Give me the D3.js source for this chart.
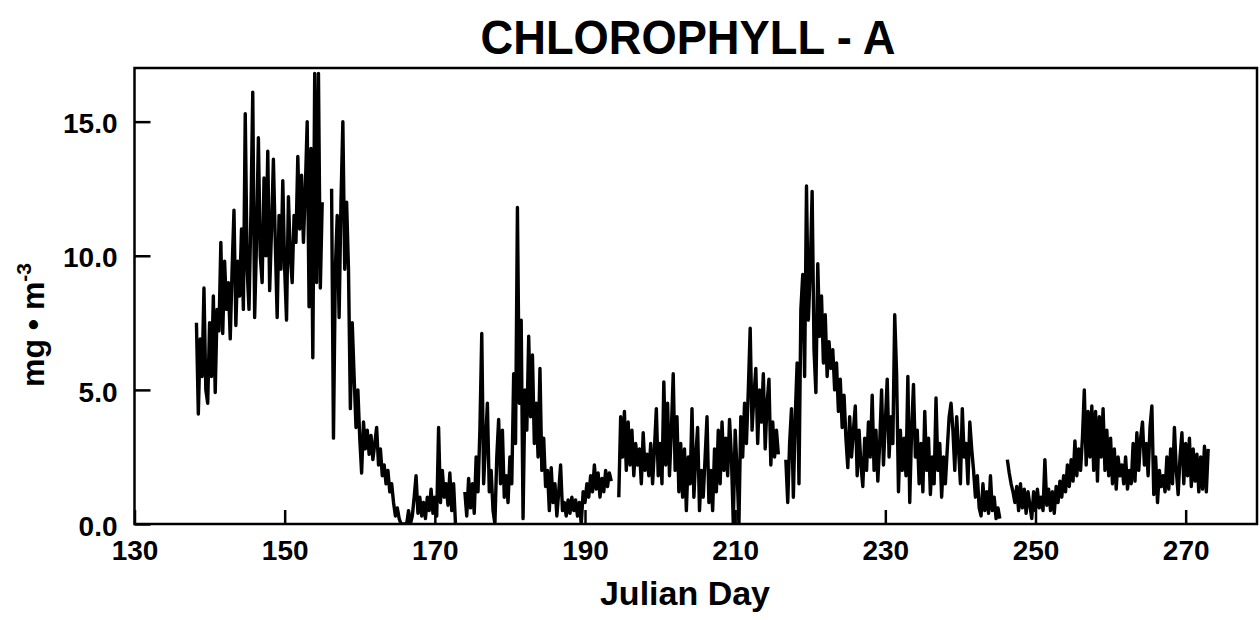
<!DOCTYPE html>
<html>
<head>
<meta charset="utf-8">
<script src="https://cdn.jsdelivr.net/npm/d3@7"></script>
<style>
  body { margin: 0; background: #fff; }
  text { font-family: "Liberation Sans", Arial, Helvetica, sans-serif; fill: #000; }
</style>
</head>
<body>
<div id="chart"></div>
<script>
// Data: chlorophyll-a, one reading every 6 hours
var firstDay = 138;
var stepDay = 0.25;
var chl = [
  null, 7.5, 4.1, 6.9,      // 138
  5.5, 8.8, 5.0, 4.5,       // 139
  7.5, 5.5, 8.5, 4.9,       // 140
  8.0, 7.2, 10.5, 7.1,      // 141
  9.8, 8.0, 9.0, 6.9,       // 142
  9.5, 11.7, 7.4, 9.8,      // 143
  8.5, 11.0, 8.0, 15.3,     // 144
  9.5, 8.0, 11.5, 16.1,     // 145
  7.7, 10.5, 14.4, 10.0,    // 146
  9.0, 12.9, 10.0, 13.9,    // 147
  8.7, 11.0, 13.6, 10.5,    // 148
  7.7, 11.5, 9.5, 12.8,     // 149
  9.5, 7.6, 12.2, 10.0,     // 150
  9.0, 11.5, 10.5, 13.7,    // 151
  11.0, 13.0, 10.5, 12.5,   // 152
  15.0, 8.1, 14.0, 6.2,     // 153
  16.8, 9.0, 16.8, 8.8,     // 154
  12.0, null, null, null,   // 155
  null, 12.5, 3.2, 9.5,     // 156
  11.5, 7.7, 12.0, 15.0,    // 157
  9.5, 12.0, 9.5, 4.3,      // 158
  7.5, 5.5, 3.6, 5.0,       // 159
  3.2, 1.9, 3.8, 2.8,       // 160
  3.5, 2.6, 3.3, 2.4,       // 161
  3.0, 3.6, 2.2, 2.8,       // 162
  1.8, 2.2, 1.5, 2.0,       // 163
  1.2, 1.5, 0.8, 0.3,       // 164
  0.6, 0.2, 0.0, 0.0,       // 165
  0.0, 0.0, 0.5, 0.0,       // 166
  0.3, 1.0, 1.8, 0.4,       // 167
  1.0, 0.3, 0.8, 0.2,       // 168
  1.0, 0.5, 1.3, 0.4,       // 169
  1.0, 0.3, 3.6, 0.8,       // 170
  2.0, 1.0, 1.5, 0.7,       // 171
  1.9, 0.5, 1.5, 0.0,       // 172
  null, null, null, null,   // 173
  1.2, 0.3, 1.7, 0.6,       // 174
  1.5, 0.4, 2.5, 1.2,       // 175
  3.5, 7.1, 1.5, 3.0,       // 176
  4.5, 1.2, 2.0, 0.5,       // 177
  0.0, 2.5, 3.9, 1.5,       // 178
  3.5, 1.0, 1.8, 0.8,       // 179
  2.5, 1.5, 5.6, 3.0,       // 180
  11.8, 4.5, 7.6, 0.2,      // 181
  5.0, 3.5, 7.0, 4.0,       // 182
  6.3, 3.0, 4.5, 2.5,       // 183
  5.8, 2.0, 3.2, 1.4,       // 184
  2.0, 0.5, 2.1, 0.8,       // 185
  1.5, 0.3, 1.2, 2.2,       // 186
  0.5, 0.8, 0.3, 0.9,       // 187
  0.4, 1.0, 0.5, 0.9,       // 188
  0.3, 0.8, 0.0, 1.2,       // 189
  0.8, 1.5, 1.0, 1.8,       // 190
  1.2, 2.2, 1.3, 1.9,       // 191
  1.0, 1.7, 1.2, 2.0,       // 192
  1.4, 1.9, 1.6, null,      // 193
  null, null, 1.0, 4.0,     // 194
  2.5, 4.2, 2.0, 3.8,       // 195
  2.2, 3.5, 1.8, 3.0,       // 196
  2.2, 2.8, 1.5, 3.4,       // 197
  2.0, 2.6, 1.8, 3.0,       // 198
  1.5, 2.8, 4.3, 1.8,       // 199
  3.0, 1.5, 5.3, 2.2,       // 200
  4.5, 1.8, 3.5, 5.6,       // 201
  2.0, 4.0, 1.2, 3.0,       // 202
  1.0, 2.8, 0.5, 2.5,       // 203
  1.5, 4.3, 1.0, 2.5,       // 204
  3.6, 0.5, 2.0, 1.0,       // 205
  2.5, 4.0, 0.8, 2.0,       // 206
  0.5, 2.8, 1.2, 3.5,       // 207
  1.5, 3.8, 2.0, 3.2,       // 208
  1.8, 3.9, 2.5, 0.0,       // 209
  3.5, 2.0, 0.0, 4.0,       // 210
  2.5, 4.5, 3.0, 5.0,       // 211
  7.3, 3.5, 4.8, 5.8,       // 212
  3.0, 5.0, 3.8, 5.6,       // 213
  2.8, 4.5, 5.4, 2.2,       // 214
  3.8, 2.5, 3.5, 2.6,       // 215
  null, null, null, 2.4,    // 216
  0.8, 3.0, 4.3, 1.0,       // 217
  4.0, 6.0, 1.5, 8.0,       // 218
  9.3, 5.5, 12.6, 7.6,      // 219
  9.5, 12.4, 6.5, 4.9,      // 220
  9.7, 7.0, 8.5, 6.0,       // 221
  7.8, 5.5, 6.8, 5.8,       // 222
  6.5, 5.0, 6.0, 4.2,       // 223
  5.4, 3.6, 4.8, 3.2,       // 224
  2.1, 4.0, 2.5, 3.5,       // 225
  4.4, 1.8, 3.5, 2.2,       // 226
  1.4, 3.2, 2.0, 3.8,       // 227
  2.5, 4.8, 2.0, 3.5,       // 228
  1.6, 3.0, 5.0, 2.2,       // 229
  3.8, 5.4, 2.5, 4.0,       // 230
  3.0, 7.8, 5.6, 1.2,       // 231
  3.5, 2.0, 3.2, 1.8,       // 232
  5.5, 0.8, 3.5, 5.2,       // 233
  2.5, 3.5, 1.5, 3.0,       // 234
  1.2, 4.2, 2.0, 3.2,       // 235
  1.1, 2.5, 1.5, 4.7,       // 236
  2.0, 3.0, 1.0, 2.5,       // 237
  1.5, 2.8, 4.0, 4.5,       // 238
  3.5, 2.0, 4.0, 2.8,       // 239
  1.5, 4.3, 2.5, 3.0,       // 240
  1.5, 3.8, 2.8, 2.0,       // 241
  1.0, 1.8, 0.6, 0.3,       // 242
  1.5, 0.5, 1.2, 0.4,       // 243
  1.8, 0.5, 1.0, 0.2,       // 244
  0.6, 0.2, null, null,     // 245
  null, 2.4, 1.9, 1.5,      // 246
  1.2, 0.8, 1.4, 0.5,       // 247
  1.5, 0.6, 1.3, 0.4,       // 248
  1.2, 0.7, 0.2, 1.2,       // 249
  0.5, 1.3, 0.6, 1.0,       // 250
  0.5, 2.4, 0.7, 1.3,       // 251
  0.5, 1.2, 0.4, 1.4,       // 252
  0.8, 1.6, 1.0, 1.8,       // 253
  1.2, 2.2, 1.4, 2.4,       // 254
  1.6, 3.1, 1.8, 2.8,       // 255
  2.0, 3.2, 5.0, 2.2,       // 256
  4.2, 2.5, 4.4, 2.0,       // 257
  4.2, 1.6, 4.0, 2.5,       // 258
  4.3, 2.0, 3.5, 1.8,       // 259
  3.2, 1.5, 2.8, 1.3,       // 260
  2.5, 1.8, 2.2, 1.5,       // 261
  2.5, 1.3, 2.0, 1.5,       // 262
  3.0, 1.6, 3.4, 2.0,       // 263
  3.2, 3.8, 2.2, 3.0,       // 264
  1.8, 3.6, 4.4, 1.1,       // 265
  2.5, 0.8, 2.0, 1.4,       // 266
  1.8, 1.2, 2.5, 1.3,       // 267
  2.8, 1.5, 3.6, 2.0,       // 268
  1.1, 2.5, 3.4, 1.5,       // 269
  3.0, 1.8, 3.2, 1.4,       // 270
  2.8, 1.6, 2.6, 1.2,       // 271
  2.5, 1.3, 2.9, 1.2,       // 272
  2.8                       // 273
];
var xTicks = [130, 150, 170, 190, 210, 230, 250, 270];
var yTicks = [0, 5, 10, 15];
var titleText = "CHLOROPHYLL - A";
var xLabel = "Julian Day";

var points = chl.map(function(v, i) {
  return { day: firstDay + i * stepDay, value: v };
});

// Dimensions
var W = 1260, H = 620;
var margin = {top: 68, right: 3, bottom: 96, left: 134.5},
    width = W - margin.left - margin.right,
    height = H - margin.top - margin.bottom;

var svg = d3.select("#chart")
  .append("svg")
    .attr("width", W)
    .attr("height", H)
  .append("g")
    .attr("transform", "translate(" + margin.left + "," + margin.top + ")");

var x = d3.scaleLinear().domain([130, 279.5]).range([0, width]);
var y = d3.scaleLinear().domain([0, 17]).range([height, 0]);

// Clip so the trace stays inside the frame
svg.append("defs").append("clipPath")
    .attr("id", "clip")
  .append("rect")
    .attr("width", width)
    .attr("height", height);

// The series
svg.append("g").attr("clip-path", "url(#clip)")
  .append("path")
    .datum(points)
    .attr("fill", "none")
    .attr("stroke", "#000")
    .attr("stroke-width", 3.4)
    .attr("stroke-linejoin", "round")
    .attr("d", d3.line()
      .defined(function(d) { return d.value !== null; })
      .x(function(d) { return x(d.day); })
      .y(function(d) { return y(d.value); }));

// X axis, ticks pointing inward
var xAxis = svg.append("g")
  .attr("transform", "translate(0," + height + ")")
  .call(d3.axisBottom(x).tickValues(xTicks).tickFormat(d3.format("d"))
          .tickSizeInner(-14).tickSizeOuter(0).tickPadding(16));

// Y axis, ticks pointing inward
var yAxis = svg.append("g")
  .call(d3.axisLeft(y).tickValues(yTicks).tickFormat(d3.format(".1f"))
          .tickSizeInner(-16).tickSizeOuter(0).tickPadding(17));

[xAxis, yAxis].forEach(function(a) {
  a.select(".domain").remove();
  a.selectAll(".tick line").attr("stroke", "#000").attr("stroke-width", 2.5);
  a.selectAll(".tick text")
    .style("font-family", "'Liberation Sans', Arial, sans-serif")
    .style("font-size", "28px")
    .style("font-weight", "bold");
});
yAxis.selectAll(".tick text").attr("dy", "0.4em");

// Frame
svg.append("rect")
  .attr("width", width)
  .attr("height", height)
  .attr("fill", "none")
  .attr("stroke", "#000")
  .attr("stroke-width", 2.5);

// Title
svg.append("text")
  .attr("x", 688 - margin.left)
  .attr("y", 54 - margin.top)
  .attr("text-anchor", "middle")
  .attr("textLength", 415)
  .attr("lengthAdjust", "spacingAndGlyphs")
  .style("font-size", "48px")
  .style("font-weight", "bold")
  .text(titleText);

// X axis label
svg.append("text")
  .attr("x", 685 - margin.left)
  .attr("y", 605 - margin.top)
  .attr("text-anchor", "middle")
  .style("font-size", "34px")
  .style("font-weight", "bold")
  .text(xLabel);

// Y axis label with superscript
var yl = svg.append("text")
  .attr("transform", "translate(" + (44 - margin.left) + "," + (325 - margin.top) + ") rotate(-90)")
  .attr("text-anchor", "middle")
  .style("font-size", "32px")
  .style("font-weight", "bold");
yl.append("tspan").text("mg \u2022 m");
yl.append("tspan").attr("dy", -13).style("font-size", "21px").text("-3");
</script>
</body>
</html>
